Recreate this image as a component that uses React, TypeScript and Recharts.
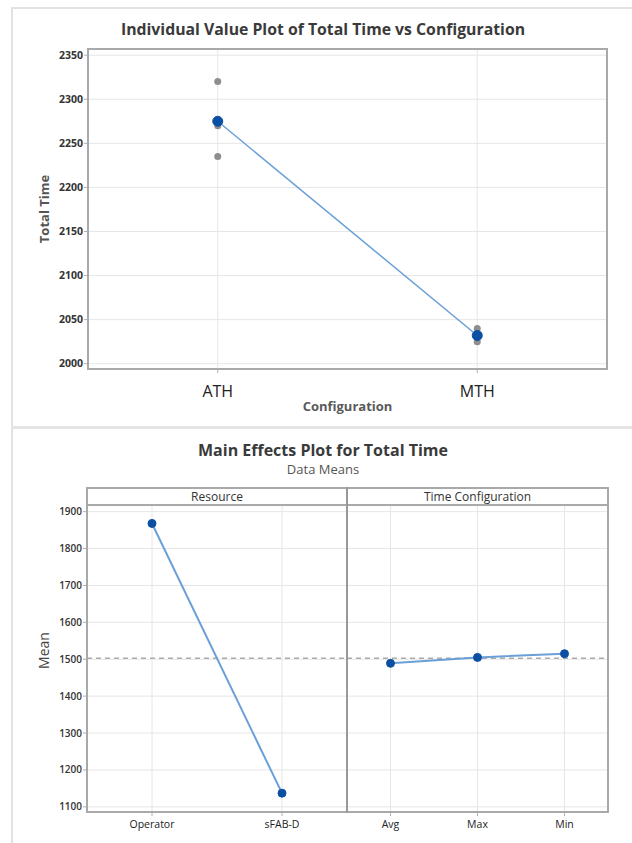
import React from "react";
import { LineChart, Line, XAxis, YAxis, CartesianGrid, ReferenceLine } from "recharts";

// top plot: individual values per configuration
const configCats = ["ATH", "MTH"];
const athValues = [2320, 2270, 2235];
const mthValues = [2040, 2030, 2025];
const configMeans = [2275, 2032];
const totalTimeTicks = [2000, 2050, 2100, 2150, 2200, 2250, 2300, 2350];

// bottom plot: main effects
const resourceCats = ["Operator", "sFAB-D"];
const resourceMeans = [1868, 1137];
const timeCats = ["Avg", "Max", "Min"];
const timeMeans = [1489, 1505, 1515];
const grandMean = 1503;
const meanTicks = [1100, 1200, 1300, 1400, 1500, 1600, 1700, 1800, 1900];

const FONT = '"Open Sans", sans-serif';
const FRAME = "#a9a9a9";
const GRID = "#e6e6e6";
const LINE_BLUE = "#6a9fd8";
const DOT_BLUE = "#0b4fa3";

const configData = configCats.map((c, i) => {
  const vals = i === 0 ? athValues : mthValues;
  return { config: c, mean: configMeans[i], p0: vals[0], p1: vals[1], p2: vals[2] };
});
const resourceData = resourceCats.map((c, i) => ({ cat: c, mean: resourceMeans[i] }));
const timeData = timeCats.map((c, i) => ({ cat: c, mean: timeMeans[i] }));

const yTitle = (text: string, shift: number, size: number, weight: number, color: string) =>
  (props: any) => {
    const vb = props.viewBox || {};
    const cx = vb.x + vb.width / 2;
    const cy = vb.y + vb.height / 2 + shift;
    return (
      <text
        x={cx}
        y={cy}
        transform={`rotate(-90, ${cx}, ${cy})`}
        textAnchor="middle"
        dominantBaseline="central"
        fontFamily={FONT}
        fontSize={size}
        fontWeight={weight}
        fill={color}
      >
        {text}
      </text>
    );
  };

const box = (s: React.CSSProperties): React.CSSProperties => ({ position: "absolute", boxSizing: "border-box", ...s });

export default function App() {
  const topW = 632;
  const topPlotW = 607 - 88;
  const leftPlotW = 347 - 87;
  const rightPlotW = 608 - 347;

  return (
    <div style={{ position: "absolute", left: 0, top: 0, width: 632, height: 843, background: "#fff", fontFamily: FONT, overflow: "hidden" }}>
      {/* panel borders */}
      <div style={box({ left: 11, top: 7, width: 2, height: 836, background: "#e2e2e2" })} />
      <div style={box({ left: 11, top: 7, width: 621, height: 2, background: "#e2e2e2" })} />
      <div style={box({ left: 11, top: 426, width: 621, height: 3, background: "#e4e4e4" })} />

      <div style={box({ left: 0, top: 19, width: 646, textAlign: "center", fontSize: 15.8, fontWeight: 700, color: "#3a3a3a", lineHeight: "20px" })}>
        Individual Value Plot of Total Time vs Configuration
      </div>

      <div style={{ position: "absolute", left: 0, top: 0 }}>
        <LineChart width={topW} height={428} data={configData} margin={{ top: 49, right: 25, bottom: 9, left: 0 }}>
          <CartesianGrid stroke={GRID} strokeWidth={1} />
          <XAxis
            dataKey="config"
            height={50}
            padding={{ left: topPlotW / 4, right: topPlotW / 4 }}
            axisLine={false}
            tickSize={4}
            tickMargin={13}
            tickLine={{ stroke: "#b0b0b0" }}
            tick={{ fontSize: 16, fill: "#222", fontFamily: FONT }}
            label={{ value: "Configuration", position: "insideBottom", offset: 8, fontSize: 13, fontWeight: 700, fill: "#5a5a5a", fontFamily: FONT }}
          />
          <YAxis
            width={88}
            domain={[1994, 2357]}
            ticks={totalTimeTicks}
            axisLine={false}
            tickSize={4}
            tickMargin={1}
            tickLine={{ stroke: "#b0b0b0" }}
            tick={{ fontSize: 10.5, fontWeight: 700, fill: "#333", fontFamily: FONT }}
            label={yTitle("Total Time", 0, 13, 700, "#555")}
          />
          {["p0", "p1", "p2"].map((k) => (
            <Line key={k} dataKey={k} stroke="none" isAnimationActive={false} activeDot={false}
              dot={{ r: 3.5, fill: "#8e8e8e", stroke: "none" }} />
          ))}
          <Line dataKey="mean" stroke={LINE_BLUE} strokeWidth={1.5} isAnimationActive={false} activeDot={false}
            dot={{ r: 5, fill: DOT_BLUE, stroke: DOT_BLUE, strokeWidth: 1 }} />
        </LineChart>
      </div>
      <div style={box({ left: 87, top: 48, width: 521, height: 322, border: `2px solid ${FRAME}` })} />

      {/* bottom panel */}
      <div style={box({ left: 0, top: 440, width: 646, textAlign: "center", fontSize: 16, fontWeight: 700, color: "#3a3a3a", lineHeight: "20px" })}>
        Main Effects Plot for Total Time
      </div>
      <div style={box({ left: 0, top: 461, width: 646, textAlign: "center", fontSize: 13, color: "#555", lineHeight: "16px" })}>
        Data Means
      </div>

      <div style={{ position: "absolute", left: 0, top: 430 }}>
        <LineChart width={347} height={413} data={resourceData} margin={{ top: 75, right: 0, bottom: 5, left: 0 }}>
          <CartesianGrid stroke={GRID} horizontalValues={meanTicks} />
          <XAxis
            dataKey="cat"
            height={26}
            padding={{ left: leftPlotW / 4, right: leftPlotW / 4 }}
            axisLine={false}
            tickSize={4}
            tickMargin={5}
            tickLine={{ stroke: "#b0b0b0" }}
            tick={{ fontSize: 10.5, fontWeight: 400, fill: "#222", fontFamily: FONT }}
          />
          <YAxis
            width={87}
            domain={[1086, 1918]}
            ticks={meanTicks}
            axisLine={false}
            tickSize={4}
            tickMargin={1}
            tickLine={{ stroke: "#b0b0b0" }}
            tick={{ fontSize: 10, fontWeight: 600, fill: "#333", fontFamily: FONT }}
            label={yTitle("Mean", -8, 14, 400, "#444")}
          />
          <ReferenceLine y={grandMean} stroke="#ababab" strokeWidth={1.5} strokeDasharray="5 4" />
          <Line dataKey="mean" stroke={LINE_BLUE} strokeWidth={2} isAnimationActive={false} activeDot={false}
            dot={{ r: 4, fill: DOT_BLUE, stroke: DOT_BLUE, strokeWidth: 1 }} />
        </LineChart>
      </div>
      <div style={{ position: "absolute", left: 347, top: 430 }}>
        <LineChart width={285} height={413} data={timeData} margin={{ top: 75, right: 24, bottom: 5, left: 0 }}>
          <CartesianGrid stroke={GRID} horizontalValues={meanTicks} />
          <XAxis
            dataKey="cat"
            height={26}
            padding={{ left: rightPlotW / 6, right: rightPlotW / 6 }}
            axisLine={false}
            tickSize={4}
            tickMargin={5}
            tickLine={{ stroke: "#b0b0b0" }}
            tick={{ fontSize: 10.5, fontWeight: 400, fill: "#222", fontFamily: FONT }}
          />
          <YAxis hide domain={[1086, 1918]} ticks={meanTicks} />
          <ReferenceLine y={grandMean} stroke="#ababab" strokeWidth={1.5} strokeDasharray="5 4" />
          <Line dataKey="mean" stroke={LINE_BLUE} strokeWidth={2} isAnimationActive={false} activeDot={false}
            dot={{ r: 4, fill: DOT_BLUE, stroke: DOT_BLUE, strokeWidth: 1 }} />
        </LineChart>
      </div>

      {/* facet frame and strips */}
      <div style={box({ left: 86, top: 487, width: 523, height: 326, border: `2px solid ${FRAME}` })} />
      <div style={box({ left: 86, top: 504, width: 523, height: 2, background: FRAME })} />
      <div style={box({ left: 346, top: 487, width: 2, height: 326, background: "#999" })} />
      <div style={box({ left: 87, top: 488, width: 260, height: 17, textAlign: "center", fontSize: 12, color: "#333", lineHeight: "17px" })}>
        Resource
      </div>
      <div style={box({ left: 347, top: 488, width: 261, height: 17, textAlign: "center", fontSize: 12, color: "#333", lineHeight: "17px" })}>
        Time Configuration
      </div>
    </div>
  );
}
